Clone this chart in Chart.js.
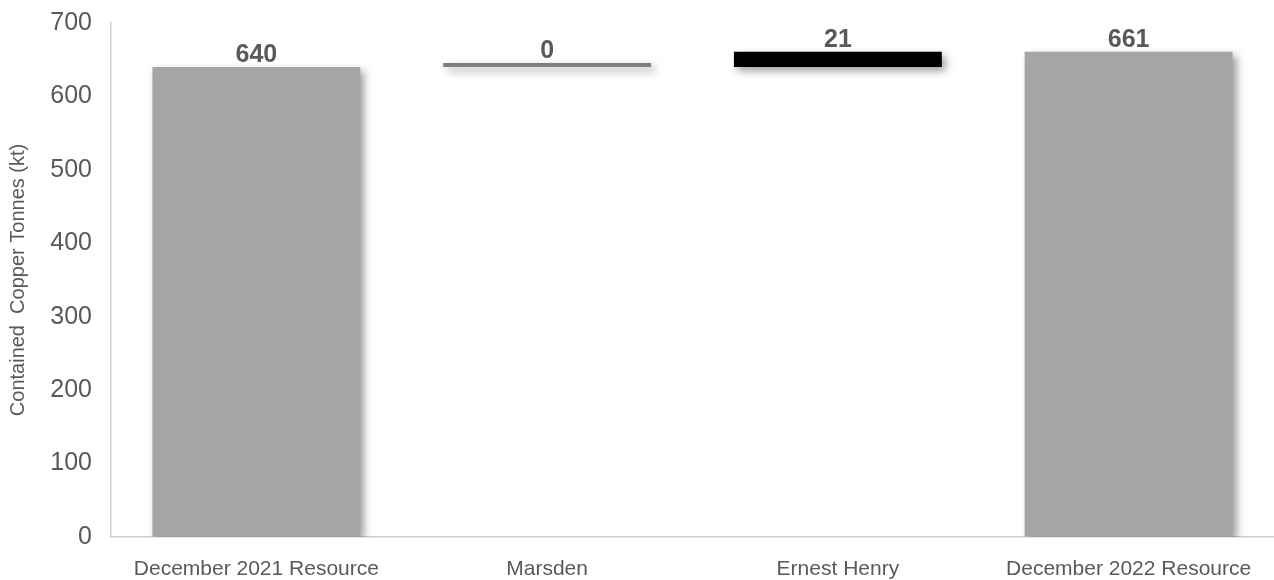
<!DOCTYPE html>
<html>
<head>
<meta charset="utf-8">
<script src="https://cdn.jsdelivr.net/npm/chart.js@4/dist/chart.umd.min.js"></script>
<style>
  html, body { margin:0; padding:0; background:#fff; }
  #chart { display:block; }
</style>
</head>
<body>
<canvas id="chart" width="1274" height="580"></canvas>
<script>
// ========== DATA ==========
const categories = ['December 2021 Resource', 'Marsden', 'Ernest Henry', 'December 2022 Resource'];
const barStart   = [0, 640, 640, 0];      // waterfall floor of each bar (kt)
const barEnd     = [640, 640, 661, 661];  // waterfall top of each bar (kt)
const barLabel   = [640, 0, 21, 661];     // value printed above each bar
const barColors  = ['#a5a5a5', '#7f7f7f', '#000000', '#a5a5a5'];
const yTicks     = [0, 100, 200, 300, 400, 500, 600, 700];

const FONT = "'Liberation Sans', Arial, sans-serif";
const TEXT = '#595959';
const AXIS = '#d0d0d0';

// ========== PLUGINS ==========
// soft drop shadow behind the bars
const barShadow = {
  id:'barShadow',
  beforeDatasetDraw(chart){
    const c = chart.ctx;
    c.save();
    c.shadowColor = 'rgba(0,0,0,0.38)';
    c.shadowBlur = 8;
    c.shadowOffsetX = 4;
    c.shadowOffsetY = 4;
  },
  afterDatasetDraw(chart){ chart.ctx.restore(); }
};

// bold value labels above each bar
const valueLabels = {
  id:'valueLabels',
  afterDatasetsDraw(chart){
    const c = chart.ctx;
    const meta = chart.getDatasetMeta(0);
    c.save();
    c.font = `bold 25px ${FONT}`;
    c.fillStyle = TEXT;
    c.textAlign = 'center';
    c.textBaseline = 'alphabetic';
    meta.data.forEach((bar, i)=>{
      const top = Math.min(bar.y, bar.base);
      c.fillText(String(barLabel[i]), bar.x, top - 5);
    });
    c.restore();
  }
};

// ========== CHART ==========
new Chart(document.getElementById('chart'), {
  type:'bar',
  data:{
    labels: categories,
    datasets:[{
      data: categories.map((_, i)=>[barStart[i], barEnd[i]]),
      backgroundColor: barColors,
      borderWidth: 0,
      minBarLength: 4,
      barPercentage: 0.715,
      categoryPercentage: 1
    }]
  },
  options:{
    responsive:false,
    animation:false,
    layout:{ padding:{ top:23, right:0, bottom:0, left:0 } },
    plugins:{ legend:{display:false}, tooltip:{enabled:false} },
    scales:{
      x:{
        grid:{ drawOnChartArea:false, drawTicks:false },
        border:{ color:AXIS, width:1.5 },
        ticks:{ color:TEXT, font:{family:FONT, size:21}, padding:20, maxRotation:0, autoSkip:false },
        afterFit(s){ s.height = 43; }
      },
      y:{
        min:0, max:700,
        afterBuildTicks(s){ s.ticks = yTicks.map(v=>({value:v})); },
        grid:{ drawOnChartArea:false, drawTicks:false },
        border:{ color:AXIS, width:1.5 },
        ticks:{ color:TEXT, font:{family:FONT, size:25}, padding:19 },
        title:{
          display:true,
          text:'Contained  Copper Tonnes (kt)',
          color:TEXT,
          font:{family:FONT, size:20},
          padding:{top:6, bottom:0}
        },
        afterFit(s){ s.width = 111; s.paddingTop = 0; s.paddingBottom = 0; }
      }
    }
  },
  plugins:[barShadow, valueLabels]
});
</script>
</body>
</html>
